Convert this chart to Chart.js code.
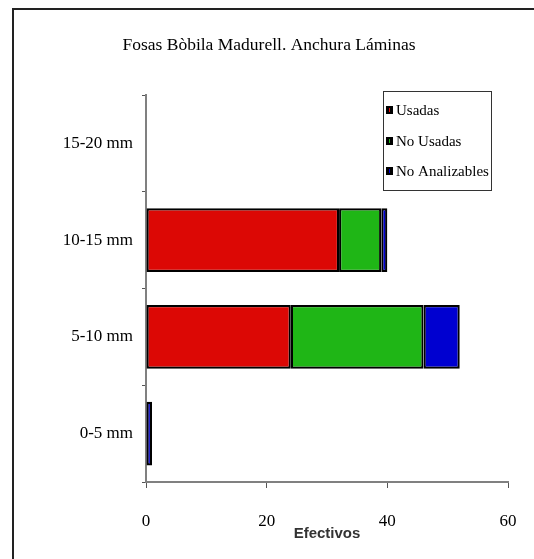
<!DOCTYPE html>
<html lang="es">
<head>
<meta charset="UTF-8" />
<title>Fosas Bòbila Madurell</title>
<script src="https://cdn.jsdelivr.net/npm/chart.js"></script>
<style>
body { margin: 0; background: #fff; }
#wrap { position: relative; width: 534px; height: 559px; }
</style>
</head>
<body>
<div id="wrap"><canvas id="chart" width="534" height="559"></canvas></div>
<script>
// categorias de arriba a abajo
const categories = ['15-20 mm', '10-15 mm', '5-10 mm', '0-5 mm'];
const seriesNames = ['Usadas', 'No Usadas', 'No Analizables'];
const usadas = [0, 32, 24, 0];
const noUsadas = [0, 7, 22, 0];
const noAnalizables = [0, 1, 6, 1];
const xTicks = [0, 20, 40, 60];
const chartTitle = 'Fosas Bòbila Madurell. Anchura Láminas';

const colors = ['#dc0805', '#1fb616', '#0000d0'];
const serif = "'Liberation Serif', 'DejaVu Serif', serif";

const makeSet = (name, values, i) => ({
    label: name,
    data: values.map(v => v || null),
    backgroundColor: colors[i],
    borderColor: '#000',
    borderWidth: 2.2,
    borderSkipped: false,
    barPercentage: 0.66,
    categoryPercentage: 1
});

// marco exterior, titulo y leyenda con recuadro
const frameLegend = {
    id: 'frameLegend',
    afterDraw(chart) {
        const c = chart.ctx;
        c.save();
        c.strokeStyle = '#222';
        c.lineWidth = 2;
        c.beginPath();
        c.moveTo(13, 559); c.lineTo(13, 9); c.lineTo(534, 9);
        c.stroke();

        c.fillStyle = '#000';
        c.font = '17.5px ' + serif;
        c.textAlign = 'center';
        c.textBaseline = 'middle';
        c.fillText(chartTitle, 269, 45);

        c.lineWidth = 1;
        c.strokeStyle = '#333';
        c.fillStyle = '#fff';
        c.fillRect(383, 91, 108, 99);
        c.strokeRect(383.5, 91.5, 108, 99);
        const ys = [110, 141, 171];
        c.font = '15px ' + serif;
        c.textAlign = 'left';
        chart.data.datasets.forEach((ds, i) => {
            c.fillStyle = '#000';
            c.fillRect(386, ys[i] - 4, 7, 8);
            c.fillStyle = ds.backgroundColor;
            c.fillRect(389, ys[i] - 2, 1, 4);
            c.fillStyle = '#000';
            c.fillText(ds.label, 396, ys[i] + 1);
        });
        c.restore();
    }
};

new Chart(document.getElementById('chart'), {
    type: 'bar',
    data: {
        labels: categories,
        datasets: [
            makeSet(seriesNames[0], usadas, 0),
            makeSet(seriesNames[1], noUsadas, 1),
            makeSet(seriesNames[2], noAnalizables, 2)
        ]
    },
    options: {
        indexAxis: 'y',
        responsive: false,
        animation: false,
        layout: { padding: { left: 0, right: 26, top: 95, bottom: 0 } },
        plugins: {
            legend: { display: false },
            tooltip: { enabled: false },
            title: { display: false }
        },
        scales: {
            x: {
                stacked: true,
                min: 0,
                max: 60,
                afterBuildTicks: s => { s.ticks = xTicks.map(v => ({ value: v })); },
                afterFit: s => { s.height = 77; s.paddingLeft = 0; s.paddingRight = 0; },
                border: { color: '#808080', width: 2 },
                grid: { drawOnChartArea: false, tickLength: 6, color: '#555' },
                ticks: { color: '#000', padding: 23, font: { family: serif, size: 17 } },
                title: {
                    display: true,
                    text: 'Efectivos',
                    color: '#333',
                    font: { family: "'Liberation Sans', sans-serif", size: 15, weight: 'bold' },
                    padding: { top: 0, bottom: 16 }
                }
            },
            y: {
                stacked: true,
                afterFit: s => { s.width = 146; s.paddingTop = 0; s.paddingBottom = 0; },
                border: { color: '#808080', width: 2 },
                grid: { drawOnChartArea: false, tickLength: 4, color: '#555', offset: true },
                ticks: { color: '#000', padding: 9, font: { family: serif, size: 17 } }
            }
        }
    },
    plugins: [frameLegend]
});
</script>
</body>
</html>
